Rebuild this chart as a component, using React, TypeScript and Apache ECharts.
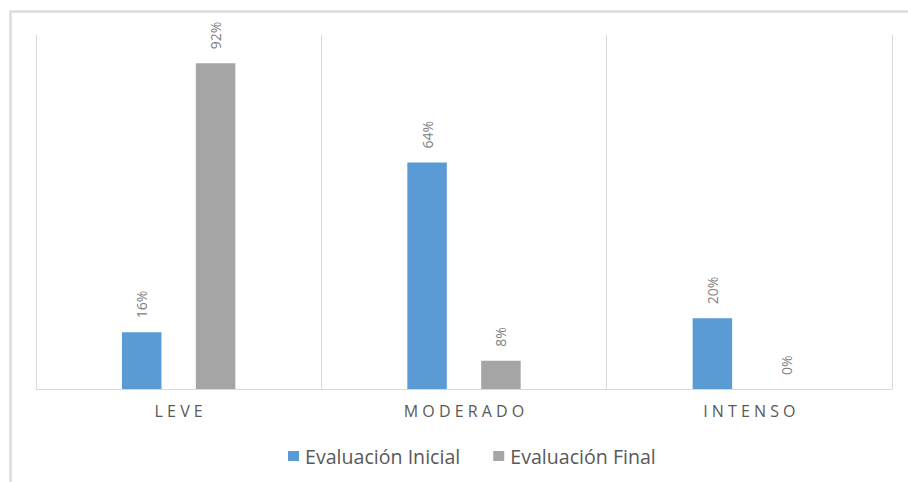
import React, { useEffect, useRef } from "react";
import * as echarts from "echarts";

const categories = ["LEVE", "MODERADO", "INTENSO"];
const inicial = [16, 64, 20];
const final = [92, 8, 0];
const seriesNames = ["Evaluación Inicial", "Evaluación Final"];

// category names are drawn with wide letter spacing
const spaced = (s: string) => s.split("").join(" ");

export default function App() {
  const ref = useRef<HTMLDivElement>(null);

  useEffect(() => {
    if (!ref.current) return;
    const chart = echarts.init(ref.current, null, { renderer: "svg" });
    const label = {
      show: true,
      position: "top" as const,
      rotate: 90,
      align: "left" as const,
      verticalAlign: "middle" as const,
      distance: 14,
      color: "#808080",
      fontSize: 14,
      fontFamily: "Open Sans",
      formatter: (p: any) => `${p.value}%`,
    };
    chart.setOption({
      animation: false,
      backgroundColor: "#ffffff",
      graphic: [
        {
          type: "rect",
          shape: { x: 10.5, y: 11.5, width: 1200, height: 1200 },
          style: { fill: "none", stroke: "#dcdcdc", lineWidth: 2.5 },
          silent: true,
        },
      ],
      grid: { left: 36, right: 16, top: 35, bottom: 93, containLabel: false },
      legend: {
        data: seriesNames,
        top: 441,
        left: 283,
        itemWidth: 11,
        itemHeight: 10,
        itemGap: 33,
        icon: "rect",
        textStyle: { color: "#595959", fontSize: 19.6, fontFamily: "Open Sans", padding: [0, 0, 0, 1] },
      },
      xAxis: {
        type: "category",
        data: categories,
        axisLine: { show: true, lineStyle: { color: "#d9d9d9", width: 1 } },
        axisTick: { show: false },
        splitLine: { show: true, lineStyle: { color: "#d9d9d9", width: 1 } },
        axisLabel: {
          color: "#595959",
          fontSize: 16,
          fontFamily: "Open Sans",
          margin: 14,
          formatter: (v: string) => spaced(v),
        },
      },
      yAxis: {
        type: "value",
        min: 0,
        max: 100,
        show: false,
        splitLine: { show: false },
      },
      series: [
        {
          name: seriesNames[0],
          type: "bar",
          data: inicial,
          barWidth: 39.5,
          barGap: "87%",
          itemStyle: { color: "#5b9bd5" },
          label,
        },
        {
          name: seriesNames[1],
          type: "bar",
          data: final,
          barWidth: 39.5,
          itemStyle: { color: "#a5a5a5" },
          label,
        },
      ],
    });
    return () => chart.dispose();
  }, []);

  return (
    <div
      ref={ref}
      style={{ position: "fixed", left: 0, top: 0, width: 908, height: 482, background: "#fff" }}
    />
  );
}
